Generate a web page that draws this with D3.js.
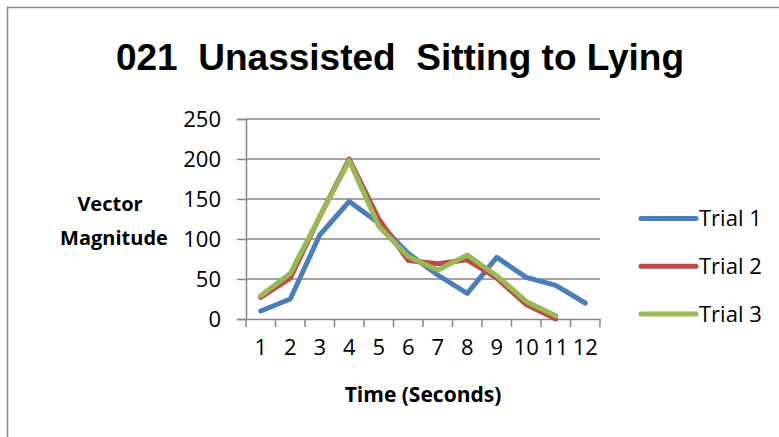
<!DOCTYPE html>
<html><head><meta charset="utf-8">
<script src="https://cdn.jsdelivr.net/npm/d3@7"></script>
<style>body{margin:0;background:#fff}svg{display:block}</style>
</head><body>
<svg id="c" width="779" height="437"></svg>
<script>
const categories = ["1","2","3","4","5","6","7","8","9","10","11","12"];
const trial1 = [10, 25, 105, 147, 120, 82, 55, 32, 77, 52, 42, 20];
const trial2 = [27, 51, 128, 200, 125, 73, 69, 74, 51, 18, 0];
const trial3 = [29, 57, 128, 198, 116, 78, 61, 80, 54, 22, 4];
const seriesNames = ["Trial 1", "Trial 2", "Trial 3"];
const seriesColors = ["#4a7ebb", "#be4b48", "#98b954"];
const yTicks = [0, 50, 100, 150, 200, 250];

const svg = d3.select("#c");
svg.append("rect").attr("x",7.5).attr("y",7.5).attr("width",800).attr("height",500)
  .attr("fill","none").attr("stroke","#898989").attr("stroke-width",1.5);

const L=246, R=600, T=119, B=319;
const x = d3.scaleBand().domain(categories).range([L,R]);
const y = d3.scaleLinear().domain([0,250]).range([B,T]);

// gridlines
svg.append("g").selectAll("line").data(yTicks.filter(d=>d>0)).join("line")
  .attr("x1",L).attr("x2",R).attr("y1",d=>y(d)).attr("y2",d=>y(d))
  .attr("stroke","#878787").attr("stroke-width",1.5);

const tickFont = "'Open Sans', sans-serif";
// y axis
const yAxis = svg.append("g").attr("transform",`translate(${L},0)`)
  .call(d3.axisLeft(y).tickValues(yTicks).tickSize(9).tickPadding(16));
yAxis.select(".domain").attr("stroke","#878787").attr("stroke-width",1.5);
yAxis.selectAll(".tick line").attr("stroke","#878787").attr("stroke-width",1.5);
yAxis.selectAll("text").attr("font-family",tickFont).attr("font-size",22).attr("fill","#000");

// x axis
const xAxis = svg.append("g").attr("transform",`translate(0,${B})`)
  .call(d3.axisBottom(x).tickSize(0).tickPadding(20));
xAxis.select(".domain").attr("stroke","#878787").attr("stroke-width",1.5);
xAxis.selectAll("text").attr("font-family",tickFont).attr("font-size",22).attr("fill","#000");
// category boundary tick marks
const bounds = categories.map(c=>x(c)).concat([R]);
svg.append("g").selectAll("line").data(bounds).join("line")
  .attr("x1",d=>d).attr("x2",d=>d).attr("y1",B).attr("y2",B+8)
  .attr("stroke","#878787").attr("stroke-width",1.5);

// lines
const allSeries = [trial1, trial2, trial3];
const line = d3.line().x((d,i)=>x(categories[i])+x.bandwidth()/2).y(d=>y(d));
allSeries.forEach((s,k)=>{
  svg.append("path").datum(s).attr("d",line).attr("fill","none")
    .attr("stroke",seriesColors[k]).attr("stroke-width",5)
    .attr("stroke-linejoin","round").attr("stroke-linecap","round");
});

// legend
const lg = svg.append("g");
seriesNames.forEach((n,k)=>{
  const yy = 218.5 + k*47.8;
  lg.append("line").attr("x1",641).attr("x2",696).attr("y1",yy).attr("y2",yy)
    .attr("stroke",seriesColors[k]).attr("stroke-width",5).attr("stroke-linecap","round");
  lg.append("text").attr("x",699).attr("y",yy).attr("dy","0.36em")
    .attr("font-family",tickFont).attr("font-size",22).attr("fill","#000").text(n);
});

// title
svg.append("text").attr("x",400).attr("y",70).attr("text-anchor","middle")
  .attr("font-family","'Liberation Sans', Arial, sans-serif").attr("font-weight","bold")
  .attr("font-size",37).style("white-space","pre").attr("fill","#000")
  .text("021  Unassisted  Sitting to Lying");

// axis titles
const bf = "'Open Sans', sans-serif";
svg.append("text").attr("x",423).attr("y",402).attr("text-anchor","middle")
  .attr("font-family",bf).attr("font-weight","bold").attr("font-size",21).text("Time (Seconds)");
svg.append("text").attr("x",110).attr("y",211).attr("text-anchor","middle")
  .attr("font-family",bf).attr("font-weight","bold").attr("font-size",20).text("Vector");
svg.append("text").attr("x",114).attr("y",245).attr("text-anchor","middle")
  .attr("font-family",bf).attr("font-weight","bold").attr("font-size",20).text("Magnitude");
</script>
</body></html>
